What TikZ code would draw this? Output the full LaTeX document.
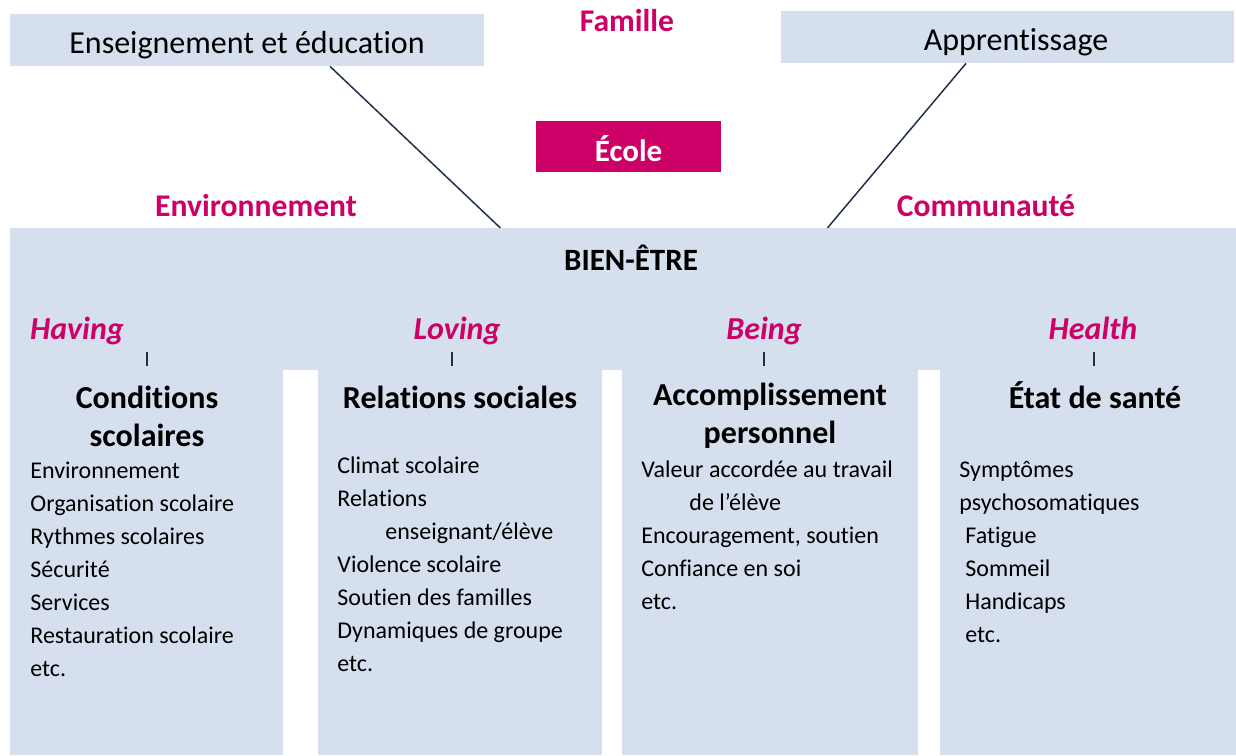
\documentclass[tikz,border=0pt]{standalone}
\usepackage{fontspec}
\setmainfont{Carlito}[Ligatures=NoCommon]
\usetikzlibrary{calc,positioning}
\definecolor{paleblue}{RGB}{213,223,238}
\definecolor{schoolred}{RGB}{204,0,102}
\definecolor{inkblue}{RGB}{33,46,78}

\begin{document}
\begin{tikzpicture}[x=0.5pt,y=-0.5pt]
	\tikzset{
		topbox/.style={fill=paleblue, inner sep=0pt},
		toptext/.style={inner sep=0pt, font=\fontsize{16}{19}\selectfont},
		panelbox/.style={fill=paleblue, inner sep=0pt, anchor=north west},
		sphere/.style={text=schoolred, font=\bfseries\fontsize{15.8}{18}\selectfont},
		dimlabel/.style={anchor=base, text=schoolred, font=\bfseries\itshape\fontsize{16}{18}\selectfont},
		heading/.style={align=center, font=\bfseries\fontsize{16}{19}\selectfont},
		item/.style={anchor=base west, inner sep=0pt, font=\fontsize{12}{14}\selectfont},
		link/.style={draw=inkblue, line width=0.75pt},
		tick/.style={draw=inkblue, line width=1pt}
	}
	\useasboundingbox (0,0) rectangle (1236,755);

	% top boxes and spheres
	\node[topbox, minimum width=237pt, minimum height=26pt] (ens) at (247,40) {};
	\node[toptext] (enstext) at (247,45) {Enseignement et éducation};
	\node[topbox, minimum width=226.5pt, minimum height=26pt] (app) at (1007.5,37) {};
	\node[toptext] (apptext) at (1016,42) {Apprentissage};
	\node[sphere] (famille) at (627,21) {Famille};
	\node[fill=schoolred, inner sep=0pt, minimum width=92.5pt, minimum height=25.5pt] (ecole) at (628.5,146.5) {};
	\node[text=white, font=\bfseries\fontsize{15.5}{18}\selectfont] (ecoletext) at (628.5,149) {École};
	\node[sphere] (envir) at (256,206) {Environnement};
	\node[sphere] (commu) at (986,206) {Communauté};

	% well-being panel and columns
	\node[panelbox, minimum width=613pt, minimum height=71pt] (panel) at (10,228) {};
	\node[panelbox, minimum width=136.5pt, minimum height=193pt] (col1) at (10,369) {};
	\node[panelbox, minimum width=142pt, minimum height=193pt] (col2) at (318,369) {};
	\node[panelbox, minimum width=148pt, minimum height=193pt] (col3) at (622,369) {};
	\node[panelbox, minimum width=148pt, minimum height=193pt] (col4) at (940,369) {};
	\node[font=\bfseries\fontsize{15.5}{17}\selectfont] (bienetre) at (631,258) {BIEN-ÊTRE};

	\draw[link] ($(ens.south)+(83,0)$) -- ($(panel.north)+(-123,0)$);
	\draw[link] ($(app.south)+(-41.5,0)$) -- ($(panel.north)+(204,0)$);

	% dimensions
	\node[dimlabel] (having) at (77,339) {Having};
	\node[dimlabel] (loving) at (457,339) {Loving};
	\node[dimlabel] (being) at (764,339) {Being};
	\node[dimlabel] (health) at (1093,339) {Health};
	\foreach \x in {147,452,764,1094}
		\draw[tick] (\x,352) -- (\x,366);

	\node[heading] (head1) at (147,416) {Conditions\\scolaires};
	\node[heading] (head2) at (460,397) {Relations sociales};
	\node[heading] (head3) at (770,415.5) {Accomplissement\\personnel};
	\node[heading] (head4) at (1095,395) {État de santé};

	% item lists
	\foreach \txt [count=\i] in {Environnement, Organisation scolaire, Rythmes scolaires,
		Sécurité, Services, Restauration scolaire, etc.}
		\node[item] (a\i) at (30,{478+33*(\i-1)}) {\txt};
	\foreach \txt [count=\i] in {Climat scolaire, Relations, \hspace*{24pt}enseignant/élève,
		Violence scolaire, Soutien des familles, Dynamiques de groupe, etc.}
		\node[item] (b\i) at (337,{473+33*(\i-1)}) {\txt};
	\foreach \txt [count=\i] in {Valeur accordée au travail, \hspace*{24pt}de l’élève,
		{Encouragement, soutien}, Confiance en soi, etc.}
		\node[item] (c\i) at (641,{477+33*(\i-1)}) {\txt};
	\foreach \txt [count=\i] in {Symptômes, psychosomatiques, \hspace*{3pt}Fatigue,
		\hspace*{3pt}Sommeil, \hspace*{3pt}Handicaps, \hspace*{3pt}etc.}
		\node[item] (d\i) at (959,{477+33*(\i-1)}) {\txt};
\end{tikzpicture}
\end{document}
